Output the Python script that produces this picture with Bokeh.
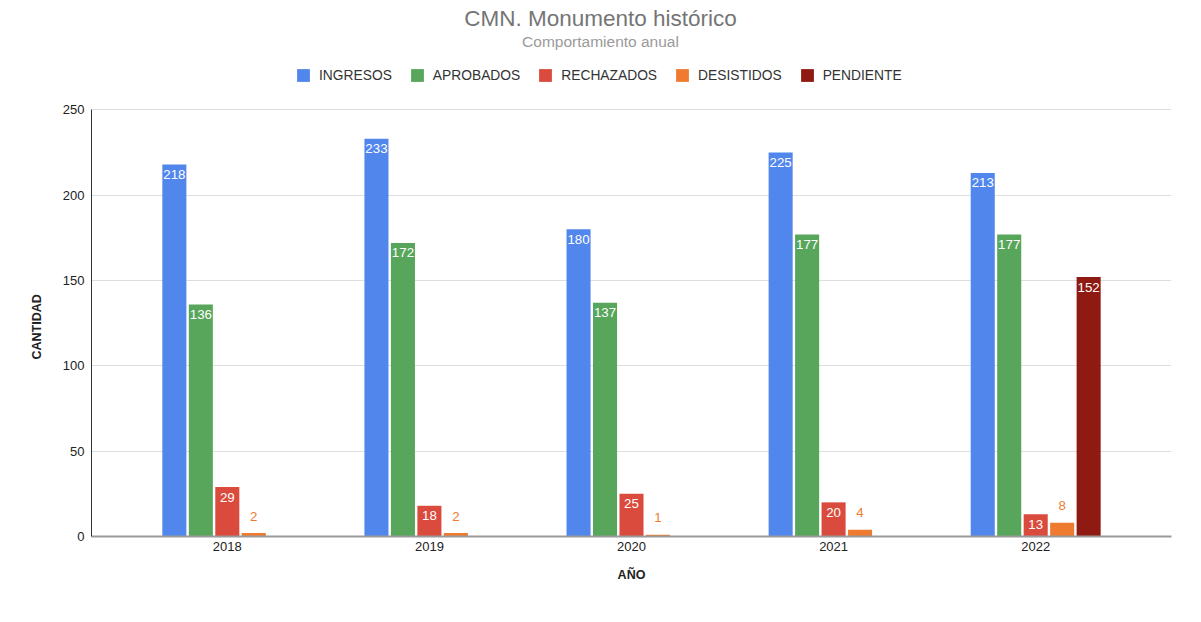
from bokeh.plotting import figure
from bokeh.models import ColumnDataSource, FactorRange, Legend, LegendItem, Label, Title
from bokeh.transform import dodge
from bokeh.core.properties import value
from bokeh.embed import file_html
from bokeh.resources import INLINE

# ---- data ----
years = ["2018", "2019", "2020", "2021", "2022"]
ingresos = [218, 233, 180, 225, 213]
aprobados = [136, 172, 137, 177, 177]
rechazados = [29, 18, 25, 20, 13]
desistidos = [2, 2, 1, 4, 8]
pendiente = [0, 0, 0, 0, 152]
series_names = ["INGRESOS", "APROBADOS", "RECHAZADOS", "DESISTIDOS", "PENDIENTE"]
series_keys = ["ingresos", "aprobados", "rechazados", "desistidos", "pendiente"]
colors = ["#5186EC", "#58A65B", "#DA4B3E", "#EE7B2F", "#8E1A12"]
y_ticks = [0, 50, 100, 150, 200, 250]
y_max = 250

FONT = "Liberation Sans"

data = dict(year=years, ingresos=ingresos, aprobados=aprobados,
            rechazados=rechazados, desistidos=desistidos, pendiente=pendiente)
source = ColumnDataSource(data)

# frame extends to the top of the canvas so the title/legend live inside it
p = figure(
    x_range=FactorRange(factors=years, range_padding=0.0688),
    y_range=(0, 314.04),
    width=1193, height=612,
    output_backend="svg", toolbar_location=None,
    min_border_left=91, min_border_right=22, min_border_top=0, min_border_bottom=76,
    background_fill_color="white", border_fill_color="white",
)
p.outline_line_color = None

step = 0.131
bar_w = 0.119
offsets = [-2 * step, -step, 0.0, step, 2 * step]

items = []
for key, name, col, off in zip(series_keys, series_names, colors, offsets):
    r = p.vbar(x=dodge("year", off, range=p.x_range), top=key, width=bar_w,
               source=source, fill_color=col, line_color=None)
    items.append(LegendItem(label=name, renderers=[r]))
    vals = data[key]
    xs = [y for y, v in zip(years, vals) if v > 0]
    vs = [v for v in vals if v > 0]
    lsrc = ColumnDataSource(dict(year=xs, v=vs, t=[str(v) for v in vs]))
    outside = key == "desistidos"
    p.text(x=dodge("year", off, range=p.x_range), y="v", text="t", source=lsrc,
           text_align="center", text_baseline="middle",
           y_offset=-17 if outside else 10,
           text_color=col if outside else "white",
           text_font=value(FONT), text_font_size="13.3px")

legend = Legend(items=items, location=(204, 453), orientation="horizontal",
                glyph_width=16, glyph_height=16, label_standoff=8, spacing=17,
                padding=0, margin=0, border_line_color=None, background_fill_alpha=0,
                label_text_font=FONT, label_text_font_size="13.8px",
                label_text_color="#333333")
p.add_layout(legend)

p.add_layout(Label(x=509, y=518.2, x_units="screen", y_units="screen",
                   text="CMN. Monumento histórico", text_align="center",
                   text_baseline="middle", text_font=FONT, text_font_size="22.5px",
                   text_color="#757575"))
p.add_layout(Label(x=509, y=494.8, x_units="screen", y_units="screen",
                   text="Comportamiento anual", text_align="center",
                   text_baseline="middle", text_font=FONT, text_font_size="15.5px",
                   text_color="#9a9a9a"))

# axes
p.yaxis.ticker = y_ticks
p.yaxis.bounds = (0, y_max)
for ax in (p.xaxis[0], p.yaxis[0]):
    ax.major_tick_line_color = None
    ax.minor_tick_line_color = None
    ax.major_tick_out = 0
    ax.major_tick_in = 0
    ax.major_label_text_font = FONT
    ax.major_label_text_font_size = "13px"
    ax.major_label_text_color = "#222222"
    ax.axis_label_text_font = FONT
    ax.axis_label_text_font_size = "12.5px"
    ax.axis_label_text_font_style = "bold"
    ax.axis_label_text_color = "#222222"

p.xaxis.axis_label = "AÑO"
p.xaxis.axis_line_color = "#9a9a9a"
p.xaxis.axis_line_width = 2
p.xaxis.major_label_standoff = 5
p.xaxis.axis_label_standoff = 14

p.yaxis.axis_line_color = "#333333"
p.yaxis.axis_line_width = 1
p.yaxis.major_label_standoff = 7

# y-axis title, centred on the 0-250 span rather than on the whole frame
p.add_layout(Title(text="CANTIDAD", align="left", offset=177, standoff=31,
                   text_font=FONT, text_font_size="12.5px", text_font_style="bold",
                   text_color="#222222"), "left")

p.xgrid.grid_line_color = None
p.ygrid.grid_line_color = "#dedede"
p.ygrid.grid_line_width = 1

open("out.html", "w").write(file_html(p, INLINE))
